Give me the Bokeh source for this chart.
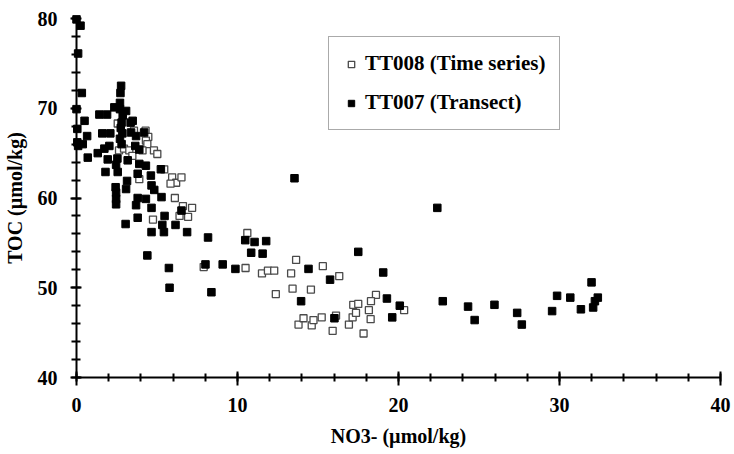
from bokeh.plotting import figure
from bokeh.models import SingleIntervalTicker, Legend, LegendItem
from bokeh.embed import file_html
from bokeh.resources import INLINE

FONT = "Liberation Serif"

# TT008 (Time series) - open squares
tt008_x = [2.56, 3.57, 4.29, 4.46, 4.31, 4.40, 4.81, 5.02, 2.64, 2.95, 3.28, 3.47, 4.10,
           5.45, 3.90, 5.94, 6.19, 6.52, 5.84, 6.11, 6.61, 7.18, 6.93, 6.40, 4.75,
           7.90, 10.61, 10.50, 11.52, 11.89, 12.28, 13.33, 13.64, 15.30, 16.32, 12.38,
           13.42, 14.56, 18.60, 13.79, 14.10, 14.61, 14.72, 15.23, 15.91, 16.12, 16.92,
           17.15, 17.19, 17.50, 17.36, 17.83, 18.16, 18.27, 18.29, 20.35]
tt008_y = [68.3, 67.5, 67.5, 66.8, 66.4, 66.0, 65.3, 64.9, 65.3, 65.5, 65.3, 64.7, 65.3,
           63.2, 62.1, 62.3, 61.7, 62.3, 61.6, 60.0, 59.1, 58.9, 57.9, 58.0, 57.6,
           52.3, 56.1, 52.2, 51.6, 51.9, 51.9, 51.6, 53.1, 52.4, 51.3, 49.3,
           49.9, 49.8, 49.2, 45.9, 46.6, 45.8, 46.4, 46.7, 45.2, 46.9, 45.9,
           46.7, 48.1, 48.2, 47.2, 44.9, 47.5, 46.5, 48.5, 47.5]

# TT007 (Transect) - filled squares
tt007_x = [0.00, 0.25, 0.10, 0.33, 0.00, 0.50, 0.05, 0.66, 0.05, 0.39, 0.10, 0.70,
           1.42, 1.90, 1.60, 2.10, 1.32, 1.73, 2.04, 1.94, 1.80,
           2.77, 2.73, 2.70, 2.35, 2.70, 2.87, 2.80, 2.75, 2.85, 2.70, 2.80,
           2.46, 2.54, 2.56, 2.46, 2.46, 2.46, 2.43,
           3.08, 3.36, 3.49, 3.39, 3.70, 3.65, 3.90, 3.18, 3.14, 3.08, 3.05,
           3.80, 3.90, 3.80, 3.70, 3.80,
           4.20, 4.31, 4.62, 5.24, 4.66, 4.83, 4.31, 5.28, 4.66, 4.40, 4.66, 5.43, 5.33, 5.47,
           6.52, 6.15, 6.87, 8.17, 5.74, 8.01, 9.08, 9.87, 5.78, 8.38,
           10.48, 11.06, 11.78, 10.85, 11.56, 13.54, 17.50, 14.41, 15.75, 19.05, 13.95,
           19.28, 20.08, 16.02, 19.61, 22.41, 22.75, 24.32, 24.73, 25.96, 27.37, 27.66,
           29.54, 29.85, 30.67, 31.33, 31.99, 32.09, 32.20, 32.38]
tt007_y = [79.9, 79.2, 76.1, 71.7, 69.9, 68.6, 67.7, 66.9, 66.2, 66.0, 65.8, 64.5,
           69.3, 69.3, 67.2, 67.2, 65.0, 65.5, 65.8, 64.3, 62.9,
           72.5, 71.7, 70.6, 70.1, 69.9, 69.2, 68.4, 67.8, 67.2, 66.6, 66.0,
           63.7, 64.4, 62.9, 60.6, 59.9, 59.3, 61.2,
           69.7, 68.4, 68.6, 67.3, 66.9, 65.8, 65.4, 64.2, 61.9, 61.0, 57.1,
           62.7, 63.8, 60.0, 59.2, 57.8,
           67.3, 63.6, 62.5, 63.2, 61.4, 60.9, 59.9, 60.1, 58.9, 53.6, 56.2, 56.2, 57.0, 58.0,
           58.6, 57.0, 56.2, 55.6, 52.2, 52.6, 52.6, 52.1, 50.0, 49.5,
           55.3, 55.1, 55.2, 53.9, 53.8, 62.2, 54.0, 52.1, 50.9, 51.7, 48.5,
           48.8, 48.0, 46.6, 46.7, 58.9, 48.5, 47.9, 46.4, 48.1, 47.2, 45.9,
           47.4, 49.1, 48.9, 47.6, 50.6, 47.8, 48.5, 48.9]

x_label = "NO3- (µmol/kg)"
y_label = "TOC (µmol/kg)"
series_names = ["TT008 (Time series)", "TT007 (Transect)"]

p = figure(width=734, height=454, output_backend="svg", toolbar_location=None,
           x_range=(0, 40), y_range=(40, 80),
           min_border_left=74, min_border_right=14, min_border_top=18, min_border_bottom=77)
p.grid.visible = False
p.outline_line_color = None
p.background_fill_color = "white"
p.border_fill_color = "white"

r1 = p.scatter(tt008_x, tt008_y, marker="square", size=7, fill_color="white",
               line_color="#4a4a4a", line_width=1.3, level="overlay")
r2 = p.scatter(tt007_x, tt007_y, marker="square", size=7.5, fill_color="black",
               line_color="black", line_width=1, level="overlay")

xa = p.xaxis[0]
ya = p.yaxis[0]
xa.ticker = SingleIntervalTicker(interval=10, num_minor_ticks=5)
ya.ticker = SingleIntervalTicker(interval=10, num_minor_ticks=5)

for ax in (xa, ya):
    ax.axis_line_width = 2
    ax.axis_line_color = "black"
    ax.major_tick_line_width = 2
    ax.minor_tick_line_width = 2
    ax.major_tick_line_color = "black"
    ax.minor_tick_line_color = "black"
    ax.major_label_text_font = FONT
    ax.major_label_text_font_style = "bold"
    ax.major_label_text_font_size = "20px"
    ax.major_label_text_color = "black"
    ax.axis_label_text_font = FONT
    ax.axis_label_text_font_style = "bold"
    ax.axis_label_text_font_size = "20px"
    ax.axis_label_text_color = "black"

xa.major_tick_in = 6
xa.major_tick_out = 8
xa.minor_tick_in = 4
xa.minor_tick_out = 4
xa.major_label_standoff = 12
xa.axis_label = x_label
xa.axis_label_standoff = 10

ya.major_tick_in = 5
ya.major_tick_out = 6
ya.minor_tick_in = 4
ya.minor_tick_out = 5
ya.major_label_standoff = 13
ya.axis_label = y_label
ya.axis_label_standoff = 9

legend = Legend(items=[LegendItem(label=series_names[0], renderers=[r1]),
                       LegendItem(label=series_names[1], renderers=[r2])],
                location=(252, 247))
legend.label_text_font = FONT
legend.label_text_font_style = "bold"
legend.label_text_font_size = "21px"
legend.label_text_color = "black"
legend.glyph_width = 16
legend.glyph_height = 16
legend.label_height = 20
legend.label_standoff = 6
legend.spacing = 14
legend.padding = 14
legend.margin = 0
legend.border_line_color = "#555555"
legend.border_line_width = 1
legend.background_fill_color = "white"
legend.background_fill_alpha = 1
p.add_layout(legend, "center")

open("out.html", "w").write(file_html(p, INLINE))
